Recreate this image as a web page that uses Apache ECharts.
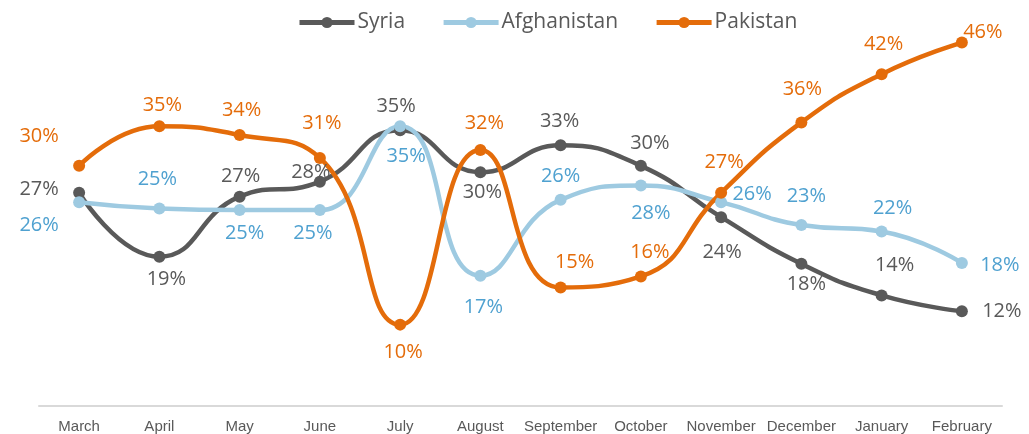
<!DOCTYPE html>
<html>
<head>
<meta charset="utf-8">
<script src="https://cdn.jsdelivr.net/npm/echarts@6/dist/echarts.min.js"></script>
<style>
  html, body { margin: 0; padding: 0; background: #fff; }
  #chart { width: 1029px; height: 434px; }
</style>
</head>
<body>
<div id="chart"></div>
<script>
// months on the x axis
var months = ["March", "April", "May", "June", "July", "August", "September",
  "October", "November", "December", "January", "February"];

// percentages
var syria = [27.0, 18.9, 26.5, 28.4, 34.9, 29.6, 33.0, 30.4, 23.9, 18.0, 14.0, 12.0];
var afghanistan = [25.8, 25.0, 24.8, 24.8, 35.4, 16.5, 26.1, 27.9, 25.8, 22.9, 22.1, 18.1];
var pakistan = [30.4, 35.4, 34.3, 31.4, 10.3, 32.4, 15.0, 16.4, 27.0, 35.9, 42.0, 46.0];

// where each data label sits, relative to its point
var syriaLabelOffsets = [[-40, -3], [7, 23], [1, -20], [-9, -9], [-4, -24], [2, 20],
  [-1, -24], [9, -23], [1, 35], [5, 20], [13, -30], [40, 0]];
var afghanLabelOffsets = [[-40, 23], [-2, -29], [5, 23], [-7, 23], [6, 30], [3, 32],
  [0, -24], [10, 28], [31, -8], [5, -29], [11, -23], [38, 2]];
var pakLabelOffsets = [[-40, -30], [3, -21], [2, -25], [2, -35], [3, 28], [4, -27],
  [14, -25], [9, -24], [3, -30], [1, -33], [2, -30], [21, -10]];

var labelFont = "'Open Sans', sans-serif";

function withLabels(values, offsets, color) {
  return values.map(function (v, i) {
    return {
      value: v,
      label: {
        show: true,
        position: "inside",
        offset: offsets[i],
        color: color,
        fontFamily: labelFont,
        fontSize: 20,
        formatter: function (p) { return Math.round(p.value) + "%"; }
      }
    };
  });
}

function makeSeries(name, values, offsets, lineColor, labelColor) {
  return {
    name: name,
    type: "line",
    smooth: 0.5,
    symbol: "circle",
    symbolSize: 12,
    lineStyle: { color: lineColor, width: 4.5 },
    itemStyle: { color: lineColor },
    data: withLabels(values, offsets, labelColor),
    animation: false
  };
}

var chart = echarts.init(document.getElementById("chart"));
chart.setOption({
  legend: {
    top: 7,
    left: 292,
    itemWidth: 55,
    itemHeight: 14,
    itemGap: 36,
    lineStyle: { width: 5 },
    textStyle: { color: "#595959", fontFamily: labelFont, fontSize: 21, padding: [0, 0, 0, -2] },
    data: ["Syria", "Afghanistan", "Pakistan"]
  },
  grid: { left: 39, right: 27, top: 11, bottom: 26 },
  xAxis: {
    type: "category",
    data: months,
    boundaryGap: true,
    axisLine: { lineStyle: { color: "#d9d9d9", width: 2 } },
    axisTick: { show: false },
    axisLabel: {
      color: "#595959",
      fontFamily: "'Liberation Sans', Arial, sans-serif",
      fontSize: 15,
      margin: 13,
      interval: 0
    }
  },
  yAxis: {
    type: "value",
    min: 0,
    max: 50,
    show: false
  },
  series: [
    makeSeries("Syria", syria, syriaLabelOffsets, "#595959", "#595959"),
    makeSeries("Afghanistan", afghanistan, afghanLabelOffsets, "#9ecae1", "#4fa1d0"),
    makeSeries("Pakistan", pakistan, pakLabelOffsets, "#e46c0a", "#e46c0a")
  ]
});
</script>
</body>
</html>
